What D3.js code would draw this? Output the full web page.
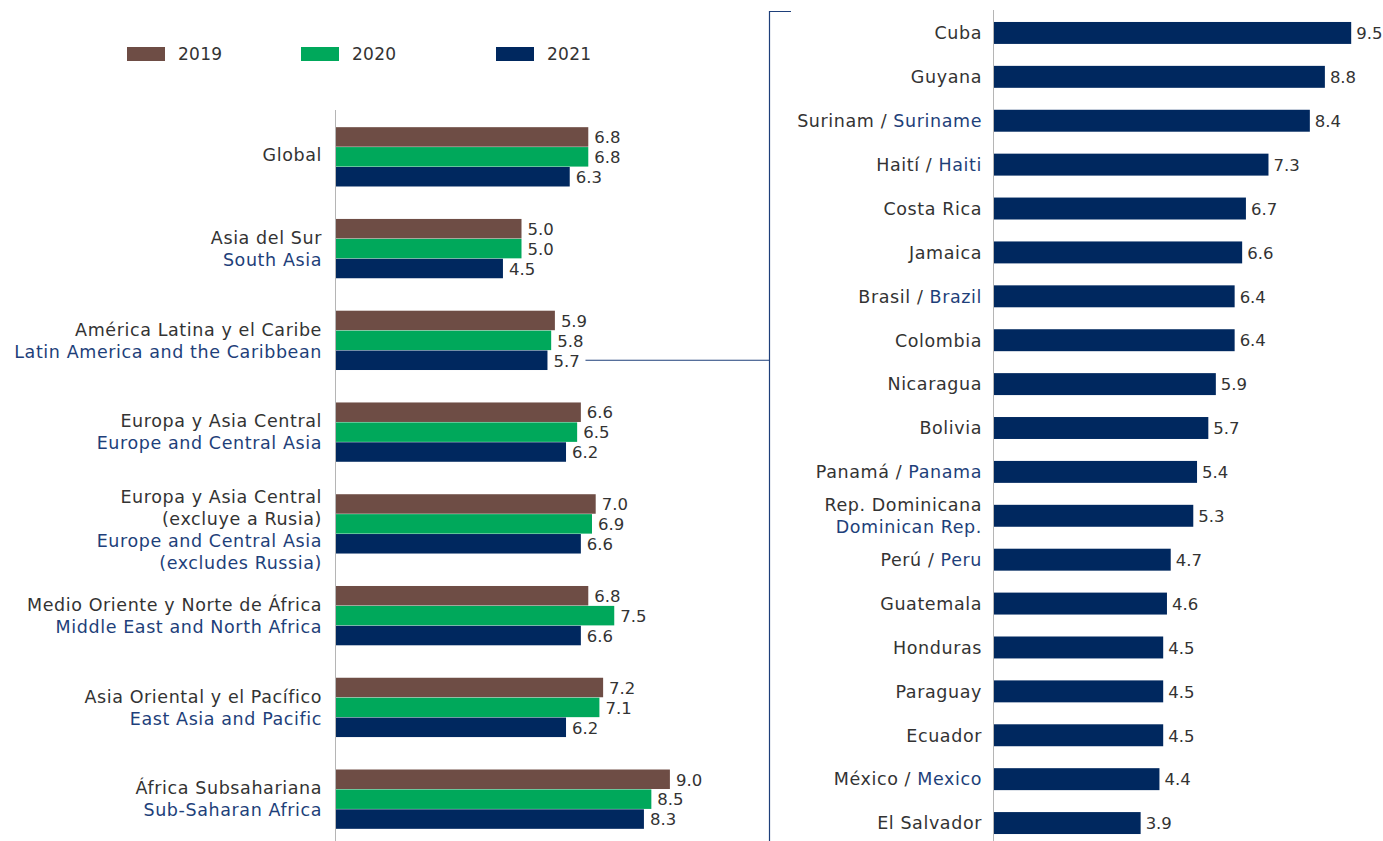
<!DOCTYPE html>
<html><head><meta charset="utf-8">
<script src="https://cdn.jsdelivr.net/npm/d3@7"></script>
<style>body{margin:0;background:#fff}svg{display:block}text{font-family:"DejaVu Sans",sans-serif}</style>
</head><body><svg id="c" width="1383" height="841"></svg>
<script>
const years = ["2019","2020","2021"];
const colors = ["#6E4D45","#00A85B","#00285F"];
const regionsEs = [["Global"],["Asia del Sur"],["América Latina y el Caribe"],["Europa y Asia Central"],["Europa y Asia Central","(excluye a Rusia)"],["Medio Oriente y Norte de África"],["Asia Oriental y el Pacífico"],["África Subsahariana"]];
const regionsEn = [[],["South Asia"],["Latin America and the Caribbean"],["Europe and Central Asia"],["Europe and Central Asia","(excludes Russia)"],["Middle East and North Africa"],["East Asia and Pacific"],["Sub-Saharan Africa"]];
const v2019 = [6.8,5.0,5.9,6.6,7.0,6.8,7.2,9.0];
const v2020 = [6.8,5.0,5.8,6.5,6.9,7.5,7.1,8.5];
const v2021 = [6.3,4.5,5.7,6.2,6.6,6.6,6.2,8.3];
const countriesEs = ["Cuba","Guyana","Surinam","Haití","Costa Rica","Jamaica","Brasil","Colombia","Nicaragua","Bolivia","Panamá","Rep. Dominicana","Perú","Guatemala","Honduras","Paraguay","Ecuador","México","El Salvador"];
const countriesEn = ["","","Suriname","Haiti","","","Brazil","","","","Panama","Dominican Rep.","Peru","","","","","Mexico",""];
const countryVals = [9.5,8.8,8.4,7.3,6.7,6.6,6.4,6.4,5.9,5.7,5.4,5.3,4.7,4.6,4.5,4.5,4.5,4.4,3.9];

const svg = d3.select("#c");
const grey = "#333333", blue = "#1E3F7A", axisC = "#b5b5b5";
const fs = 17.5, ls = 0.6, vfs = 16.5;
const fmt = d3.format(".1f");
const allVals = [v2019, v2020, v2021];

// legend
const lg = svg.append("g");
const lgX = [127, 301, 496];
years.forEach((y,i)=>{
  lg.append("rect").attr("x",lgX[i]).attr("y",47).attr("width",38).attr("height",14).attr("fill",colors[i]);
  lg.append("text").attr("x",lgX[i]+51).attr("y",54).attr("dy","0.36em").attr("font-size",17).attr("letter-spacing",0.3).attr("fill",grey).text(y);
});

// left panel
const yL = d3.scaleBand().domain(d3.range(regionsEs.length)).range([111, 845]).paddingInner(0.345).paddingOuter(0.172);
const ySub = d3.scaleBand().domain(d3.range(3)).range([0, yL.bandwidth()]).padding(0.02);
const xL = d3.scaleLinear().domain([0,10]).range([336, 707]);
svg.append("line").attr("x1",335.5).attr("x2",335.5).attr("y1",110).attr("y2",841).attr("stroke",axisC);
regionsEs.forEach((es,i)=>{
  const g = svg.append("g").attr("transform",`translate(0,${yL(i)})`);
  allVals.forEach((arr,k)=>{
    g.append("rect").attr("x",xL(0)).attr("y",ySub(k)).attr("width",xL(arr[i])-xL(0)).attr("height",ySub.bandwidth()).attr("fill",colors[k]);
    g.append("text").attr("x",xL(arr[i])+6).attr("y",ySub(k)+ySub.bandwidth()/2).attr("dy","0.38em").attr("font-size",vfs).attr("fill",grey).text(fmt(arr[i]));
  });
  const lines = es.map(t=>({t,c:grey})).concat(regionsEn[i].map(t=>({t,c:blue})));
  const n = lines.length, cy = yL(i)+yL.bandwidth()/2 + (n>2?6:0) - (n===1?2:0);
  lines.forEach((l,j)=>{
    svg.append("text").attr("x",322).attr("y",cy+(j-(n-1)/2)*22).attr("dy","0.36em").attr("text-anchor","end").attr("font-size",fs).attr("letter-spacing",ls).attr("fill",l.c).text(l.t);
  });
});

// bracket connector
const latIdx = 2;
const yConn = yL(latIdx)+ySub(2)+ySub.bandwidth()/2;
svg.append("line").attr("x1",xL(v2021[latIdx])+38).attr("x2",769.5).attr("y1",yConn).attr("y2",yConn).attr("stroke","#1E3F7A").attr("stroke-width",1.2);
svg.append("path").attr("d","M791,11.5 H769.5 V841").attr("fill","none").attr("stroke","#1E3F7A").attr("stroke-width",1.2);

// right panel
const yR = d3.scaleBand().domain(d3.range(countriesEs.length)).range([11, 845]).paddingInner(0.5).paddingOuter(0.25);
const xR = d3.scaleLinear().domain([0,10]).range([994, 1370]);
svg.append("line").attr("x1",993.5).attr("x2",993.5).attr("y1",10).attr("y2",841).attr("stroke",axisC);
countriesEs.forEach((es,i)=>{
  const yc = yR(i)+yR.bandwidth()/2;
  svg.append("rect").attr("x",xR(0)).attr("y",yR(i)).attr("width",xR(countryVals[i])-xR(0)).attr("height",yR.bandwidth()).attr("fill",colors[2]);
  svg.append("text").attr("x",xR(countryVals[i])+5).attr("y",yc).attr("dy","0.38em").attr("font-size",vfs).attr("fill",grey).text(fmt(countryVals[i]));
  const en = countriesEn[i];
  if (es.length > 12 && en) {
    svg.append("text").attr("x",982).attr("y",yc-11).attr("dy","0.36em").attr("text-anchor","end").attr("font-size",fs).attr("letter-spacing",ls).attr("fill",grey).text(es);
    svg.append("text").attr("x",982).attr("y",yc+11).attr("dy","0.36em").attr("text-anchor","end").attr("font-size",fs).attr("letter-spacing",ls).attr("fill",blue).text(en);
  } else {
    const t = svg.append("text").attr("x",982).attr("y",yc).attr("dy","0.36em").attr("text-anchor","end").attr("font-size",fs).attr("letter-spacing",ls).attr("fill",grey);
    t.append("tspan").text(es);
    if (en) { t.append("tspan").text(" / "); t.append("tspan").attr("fill",blue).text(en); }
  }
});
</script></body></html>
